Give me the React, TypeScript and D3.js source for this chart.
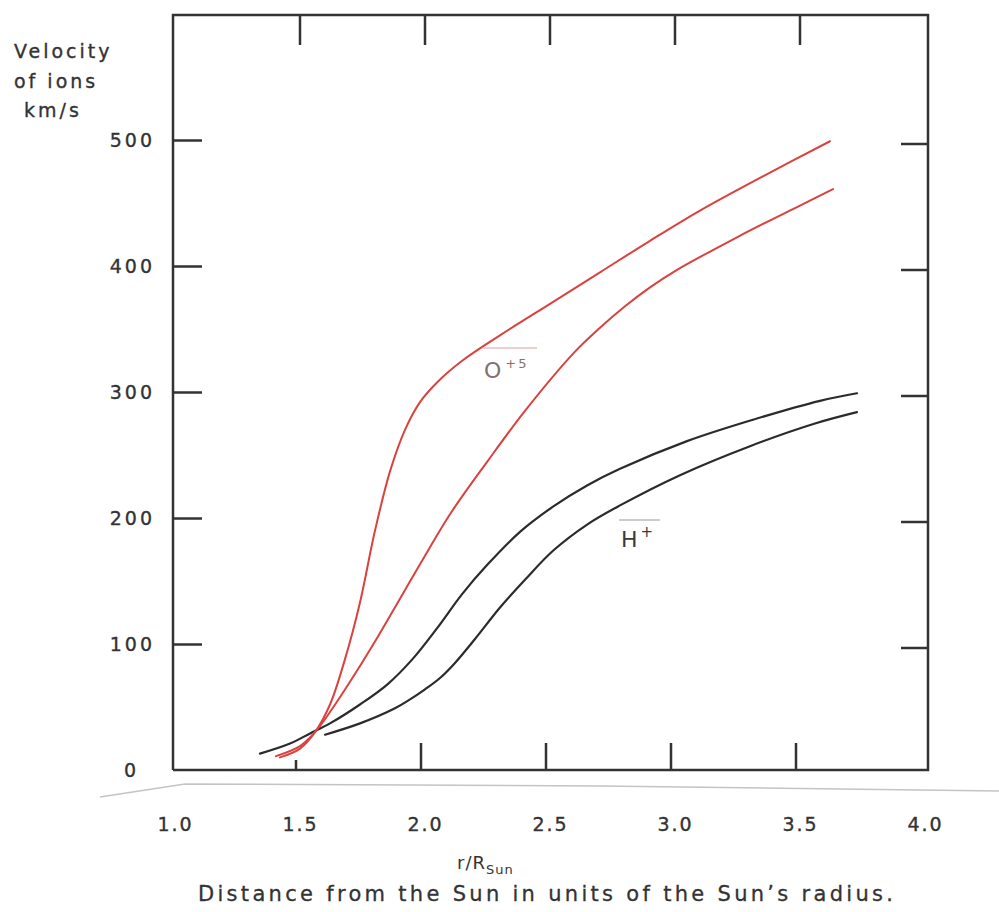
import React, { useEffect, useRef } from 'react';
import * as d3 from 'd3';

// axis ticks
const xTickValues = [1.0, 1.5, 2.0, 2.5, 3.0, 3.5, 4.0];
const yTickValues = [0, 100, 200, 300, 400, 500];
const frameTicksX = [1.5, 2.0, 2.5, 3.0, 3.5];
const frameTicksY = [100, 200, 300, 400, 500];

// O+5 ions, upper curve (r/Rsun, km/s)
const oUpperR = [1.42, 1.5, 1.56, 1.62, 1.68, 1.74, 1.8, 1.86, 1.92, 1.98, 2.05, 2.15, 2.3, 2.5, 2.7, 2.9, 3.1, 3.35, 3.62];
const oUpperV = [10, 17, 30, 52, 88, 133, 190, 237, 270, 292, 308, 325, 345, 370, 395, 420, 444, 471, 499];

// O+5 ions, lower curve
const oLowerR = [1.404, 1.5, 1.56, 1.62, 1.7, 1.8, 1.9, 2.0, 2.1, 2.25, 2.4, 2.6, 2.7, 2.8, 2.9, 3.0, 3.25, 3.5, 3.632];
const oLowerV = [11, 19, 30, 46, 70, 102, 136, 170, 203, 245, 285, 332, 351, 368, 383, 396, 423, 448, 461];

// H+ ions, upper curve
const hUpperR = [1.34, 1.46, 1.54, 1.62, 1.74, 1.85, 1.95, 2.05, 2.15, 2.25, 2.38, 2.512, 2.65, 2.78, 3.048, 3.312, 3.58, 3.728];
const hUpperV = [13, 21, 29, 37, 52, 68, 88, 113, 140, 163, 189, 209, 226, 239, 261, 278, 293, 299];

// H+ ions, lower curve
const hLowerR = [1.6, 1.74, 1.88, 1.94, 2.0, 2.06, 2.12, 2.2, 2.3, 2.4, 2.512, 2.65, 2.78, 3.02, 3.3, 3.56, 3.728];
const hLowerV = [28, 37, 49, 56, 64, 73, 85, 104, 129, 151, 174, 195, 210, 234, 257, 275, 284];

const FONT = '"DejaVu Sans", Verdana, sans-serif';
const INK = '#333';

const App = () => {
  const svgRef = useRef<SVGSVGElement>(null);

  useEffect(() => {
    const svg = d3.select(svgRef.current);
    svg.selectAll('*').remove();

    const x = d3.scaleLinear().domain([1, 4]).range([175, 925]);
    const y = d3.scaleLinear().domain([0, 600]).range([770, 14]);

    const left = x(1) - 2;
    const right = x(4) + 3;
    const top = y(600) + 1;
    const bottom = y(0);

    // faint scan edge under the axis
    svg.append('path')
      .attr('d', `M100,797 L185,784 L600,786 L999,791`)
      .attr('fill', 'none')
      .attr('stroke', '#c4c4c4')
      .attr('stroke-width', 1.5);

    // frame
    const frame = svg.append('g').attr('stroke', INK).attr('stroke-width', 2.5).attr('fill', 'none');
    frame.append('path').attr('d', `M${left},${bottom} L${left},${top} L${right},${top} L${right},${bottom} L${left},${bottom}`);

    // top ticks (hanging down)
    frame.selectAll('.tt').data(frameTicksX).join('line')
      .attr('x1', d => x(d)).attr('x2', d => x(d))
      .attr('y1', top).attr('y2', top + 30);
    // bottom ticks (pointing up)
    frame.selectAll('.bt').data(frameTicksX).join('line')
      .attr('x1', d => x(d) - 4).attr('x2', d => x(d) - 4)
      .attr('y1', bottom).attr('y2', d => bottom - (d === 1.5 ? 10 : 27));
    // right ticks (pointing in)
    frame.selectAll('.rt').data(frameTicksY).join('line')
      .attr('x1', right).attr('x2', right - 27)
      .attr('y1', d => y(d) + 4).attr('y2', d => y(d) + 4);

    // left axis
    const yAxis = d3.axisLeft(y).tickValues(yTickValues).tickSizeInner(-29).tickSizeOuter(0).tickPadding(21);
    const gy = svg.append('g').attr('transform', `translate(${left},0)`).call(yAxis);
    gy.select('.domain').remove();
    gy.selectAll('.tick line').attr('stroke', INK).attr('stroke-width', 2.5)
      .filter((d: any) => d === 0).remove();
    gy.selectAll('.tick text')
      .attr('font-family', FONT).attr('font-size', 19).attr('fill', INK)
      .attr('stroke', INK).attr('stroke-width', 0.35)
      .style('letter-spacing', '3px')
      .attr('x', (d: any) => (d === 0 ? -34 : -18));

    // bottom axis labels
    const xAxis = d3.axisBottom(x).tickValues(xTickValues).tickSize(0).tickPadding(48)
      .tickFormat(d3.format('.1f'));
    const gx = svg.append('g').attr('transform', `translate(0,${bottom})`).call(xAxis);
    gx.select('.domain').remove();
    gx.selectAll('.tick text')
      .attr('font-family', FONT).attr('font-size', 19).attr('fill', INK)
      .attr('stroke', INK).attr('stroke-width', 0.35)
      .style('letter-spacing', '2px');

    // curves
    const line = d3.line<[number, number]>()
      .x(d => x(d[0])).y(d => y(d[1]))
      .curve(d3.curveCatmullRom.alpha(0.5));
    const series = [
      { r: hUpperR, v: hUpperV, color: '#2b2b2b', w: 2.2 },
      { r: hLowerR, v: hLowerV, color: '#2b2b2b', w: 2.2 },
      { r: oUpperR, v: oUpperV, color: '#d9423e', w: 2 },
      { r: oLowerR, v: oLowerV, color: '#d9423e', w: 2 },
    ];
    svg.append('g').selectAll('path').data(series).join('path')
      .attr('d', s => line(s.r.map((r, i) => [r, s.v[i]] as [number, number])))
      .attr('fill', 'none')
      .attr('stroke', s => s.color)
      .attr('stroke-width', s => s.w)
      .attr('stroke-linecap', 'round');

    // curve labels
    const oLab = svg.append('g');
    oLab.append('line').attr('x1', 482).attr('x2', 537).attr('y1', 348).attr('y2', 348)
      .attr('stroke', '#d9a0a0').attr('stroke-width', 1);
    const oText = oLab.append('text').attr('x', 484).attr('y', 378)
      .attr('font-family', FONT).attr('font-size', 22).attr('fill', '#857070');
    oText.append('tspan').text('O');
    oText.append('tspan').attr('dx', 4).attr('dy', -10).attr('font-size', 13).style('letter-spacing', '2px').text('+5');

    const hLab = svg.append('g');
    hLab.append('line').attr('x1', 619).attr('x2', 660).attr('y1', 520).attr('y2', 520)
      .attr('stroke', '#999').attr('stroke-width', 1);
    const hText = hLab.append('text').attr('x', 621).attr('y', 547)
      .attr('font-family', FONT).attr('font-size', 22).attr('fill', '#3a3a3a');
    hText.append('tspan').text('H');
    hText.append('tspan').attr('dx', 3).attr('dy', -10).attr('font-size', 15).text('+');

    // y title
    const title = svg.append('g').attr('font-family', FONT).attr('font-size', 19).attr('fill', INK)
      .attr('stroke', INK).attr('stroke-width', 0.35)
      .style('letter-spacing', '3px');
    title.append('text').attr('x', 14).attr('y', 58).text('Velocity');
    title.append('text').attr('x', 14).attr('y', 88).text('of ions');
    title.append('text').attr('x', 24).attr('y', 117).text('km/s');

    // x title
    const rt = svg.append('text').attr('x', 457).attr('y', 869)
      .attr('font-family', FONT).attr('font-size', 18).attr('fill', INK)
      .style('letter-spacing', '1px');
    rt.append('tspan').text('r/R');
    rt.append('tspan').attr('dy', 5).attr('font-size', 13).text('Sun');

    svg.append('text').attr('x', 198).attr('y', 901)
      .attr('font-family', FONT).attr('font-size', 21).attr('fill', INK)
      .attr('stroke', INK).attr('stroke-width', 0.3)
      .attr('textLength', 695).attr('lengthAdjust', 'spacing')
      .text('Distance from the Sun in units of the Sun\u2019s radius.');
  }, []);

  return (
    <svg ref={svgRef} width={999} height={912}
      style={{ position: 'absolute', left: 0, top: 0, background: '#fff' }} />
  );
};

export default App;
